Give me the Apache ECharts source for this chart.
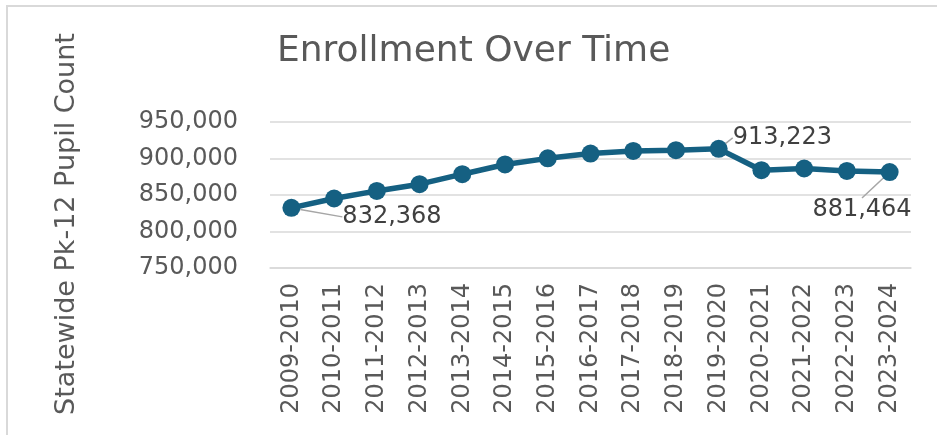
<!DOCTYPE html>
<html>
<head>
<meta charset="utf-8">
<script src="https://cdn.jsdelivr.net/npm/echarts@6/dist/echarts.min.js"></script>
<style>
html,body{margin:0;padding:0;background:#fff;}
#chart{width:937px;height:435px;}
</style>
</head>
<body>
<div id="chart"></div>
<script>
const categories = ['2009-2010','2010-2011','2011-2012','2012-2013','2013-2014','2014-2015','2015-2016','2016-2017','2017-2018','2018-2019','2019-2020','2020-2021','2021-2022','2022-2023','2023-2024'];
const enrollment = [832368, 845200, 855600, 864800, 878500, 891800, 900200, 906800, 910400, 911400, 913223, 884000, 886300, 883000, 881464];
const labeledIdx = [0, 10, 14];
const yTicks = {min: 750000, max: 950000, interval: 50000};
const titleText = 'Enrollment Over Time';
const yAxisTitle = 'Statewide Pk-12 Pupil Count';

const fmt = v => Number(v).toLocaleString('en-US');
const FONT = 'DejaVu Sans';
const GRAY = '#595959';
const LINE = '#156082';

// label offsets relative to the marker (px)
const labelOffsets = {0: {dx: 51, dy: 9, align: 'left'}, 10: {dx: 14, dy: -11, align: 'left'}, 14: {dx: 22, dy: 38, align: 'right'}};

const chart = echarts.init(document.getElementById('chart'), null, {renderer: 'canvas'});
chart.setOption({
  backgroundColor: '#ffffff',
  animation: false,
  title: {
    text: titleText, left: 272, top: 29,
    textStyle: {fontFamily: FONT, fontSize: 36, fontWeight: 'normal', color: GRAY}
  },
  graphic: [
    {type: 'rect', z: -10, silent: true, shape: {x: 7, y: 6, width: 1000, height: 1000},
     style: {fill: 'none', stroke: '#d9d9d9', lineWidth: 2}},
    {type: 'text', x: 67, y: 224, rotation: Math.PI / 2,
     style: {text: yAxisTitle, fontFamily: FONT, fontSize: 27, fill: GRAY, align: 'center', verticalAlign: 'middle'}}
  ],
  grid: {left: 270, right: 26, top: 122, bottom: 167, containLabel: false},
  xAxis: {
    type: 'category', data: categories, boundaryGap: true,
    axisLine: {show: true, lineStyle: {color: '#d9d9d9', width: 1.5}},
    axisTick: {show: false},
    axisLabel: {rotate: 90, margin: 15, fontFamily: FONT, fontSize: 24, color: GRAY, interval: 0}
  },
  yAxis: {
    type: 'value', min: yTicks.min, max: yTicks.max, interval: yTicks.interval,
    axisLine: {show: false}, axisTick: {show: false},
    splitLine: {lineStyle: {color: '#d9d9d9', width: 1.5}},
    axisLabel: {margin: 32, fontFamily: FONT, fontSize: 24, color: GRAY, formatter: v => fmt(v)}
  },
  series: [{
    type: 'line',
    data: enrollment.map((v, i) => ({
      value: v,
      label: {show: labeledIdx.includes(i)}
    })),
    symbol: 'circle', symbolSize: 18,
    lineStyle: {color: LINE, width: 5.5},
    itemStyle: {color: LINE},
    label: {show: false, fontFamily: FONT, fontSize: 24, color: '#404040', formatter: p => fmt(p.value)},
    labelLine: {show: true, lineStyle: {color: '#a6a6a6', width: 1.5}},
    labelLayout: function (params) {
      const o = labelOffsets[params.dataIndex];
      if (!o) return {};
      const r = params.rect;
      const cx = r.x + r.width / 2, cy = r.y + r.height / 2;
      return {x: cx + o.dx, y: cy + o.dy, align: o.align, verticalAlign: 'middle'};
    },
    z: 3
  }]
});
</script>
</body>
</html>
